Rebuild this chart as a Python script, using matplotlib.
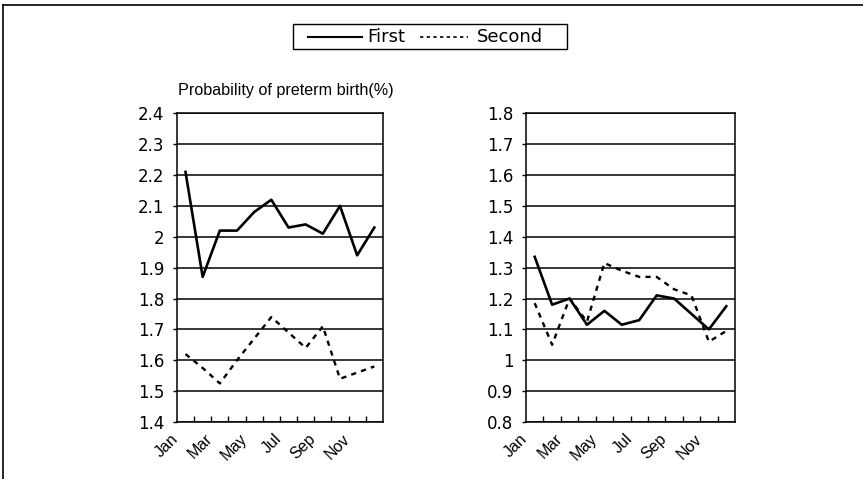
import matplotlib.pyplot as plt
from matplotlib.lines import Line2D
from matplotlib.patches import Rectangle
from matplotlib.ticker import FuncFormatter

plt.rcParams['font.family'] = ['DejaVu Sans']

months = ['Jan', 'Feb', 'Mar', 'Apr', 'May', 'Jun', 'Jul', 'Aug', 'Sep', 'Oct', 'Nov', 'Dec']
# left panel
left_first = [2.21, 1.87, 2.02, 2.02, 2.08, 2.12, 2.03, 2.04, 2.01, 2.10, 1.94, 2.03]
left_second = [1.62, 1.575, 1.525, 1.60, 1.67, 1.74, 1.69, 1.64, 1.71, 1.54, 1.56, 1.58]
# right panel
right_first = [1.335, 1.18, 1.20, 1.115, 1.16, 1.115, 1.13, 1.21, 1.20, 1.15, 1.10, 1.175]
right_second = [1.185, 1.05, 1.20, 1.125, 1.315, 1.29, 1.27, 1.27, 1.23, 1.21, 1.06, 1.095]
left_ticks = [1.4, 1.5, 1.6, 1.7, 1.8, 1.9, 2.0, 2.1, 2.2, 2.3, 2.4]
right_ticks = [0.8, 0.9, 1.0, 1.1, 1.2, 1.3, 1.4, 1.5, 1.6, 1.7, 1.8]
series_names = ['First', 'Second']

fig = plt.figure(figsize=(8.63, 4.79), dpi=100)

ax1 = fig.add_axes([0.205, 0.119, 0.2387, 0.6445])
ax2 = fig.add_axes([0.6095, 0.119, 0.2422, 0.6445])

solid_style = dict(color='black', lw=1.9)
dash_style = dict(color='black', lw=1.7, ls=(0, (2.2, 2.2)))

def style(ax, first, second, yticks):
    x = range(len(months))
    ax.plot(x, first, **solid_style)
    ax.plot(x, second, **dash_style)
    ax.set_xlim(-0.5, len(months) - 0.5)
    ax.set_ylim(yticks[0], yticks[-1])
    ax.set_yticks(yticks)
    ax.yaxis.set_major_formatter(FuncFormatter(lambda v, p: '%g' % round(v, 2)))
    ax.grid(axis='y', color='black', lw=1.1)
    ax.set_axisbelow(True)
    for s in ax.spines.values():
        s.set_color('black')
        s.set_linewidth(1.1)
    # ticks on category boundaries, labels every other month
    ax.set_xticks([i + 0.5 for i in range(len(months) - 1)])
    ax.set_xticklabels([])
    ax.tick_params(axis='x', direction='in', length=4, width=1)
    for i in range(0, len(months), 2):
        ax.text(i - 0.85, -0.03, months[i], transform=ax.get_xaxis_transform(),
                rotation=45, ha='right', va='top', rotation_mode='anchor',
                fontsize=11.5, family='Liberation Sans')
    ax.tick_params(axis='y', direction='out', length=3, width=1, labelsize=12, pad=6)

style(ax1, left_first, left_second, left_ticks)
style(ax2, right_first, right_second, right_ticks)

fig.text(0.206, 0.795, 'Probability of preterm birth(%)', fontsize=11.6,
         ha='left', va='bottom', family='Liberation Sans')

# legend box, drawn by hand to get the wide, flat look of the original
fig.add_artist(Rectangle((0.3395, 0.8977), 0.3175, 0.0522, transform=fig.transFigure,
                         fill=False, edgecolor='black', lw=1.0))
ly = 0.9235
fig.add_artist(Line2D([0.357, 0.4195], [ly, ly], transform=fig.transFigure, color='black', lw=1.5))
fig.text(0.4253, ly, series_names[0], fontsize=13, va='center', ha='left')
fig.add_artist(Line2D([0.4867, 0.5423], [ly, ly], transform=fig.transFigure, color='black',
                      lw=1.2, ls=(0, (2, 2))))
fig.text(0.5527, ly, series_names[1], fontsize=13, va='center', ha='left')

# outer frame (top and left edges)
fig.add_artist(Line2D([0.0035, 1.0], [0.99, 0.99], color='black', lw=1.2, transform=fig.transFigure))
fig.add_artist(Line2D([0.0035, 0.0035], [0.0, 0.99], color='black', lw=1.2, transform=fig.transFigure))

fig.savefig('out.png', dpi=100)
